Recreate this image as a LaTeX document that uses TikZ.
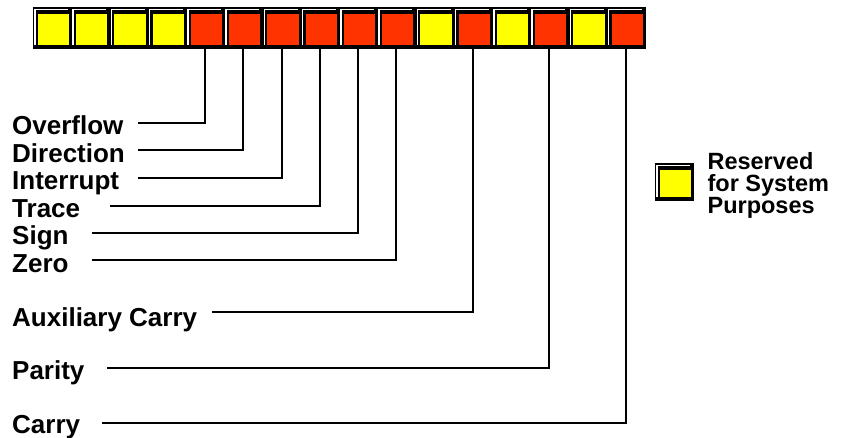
\documentclass[tikz,border=0pt]{standalone}
\usepackage{fontspec}
\setmainfont{Liberation Sans}
\usetikzlibrary{positioning}
\definecolor{flagred}{HTML}{FF3300}
\definecolor{flagyellow}{HTML}{FFFF00}

\tikzset{
  flagcell/.style={rectangle, inner sep=0pt, minimum width=38.25pt, minimum height=41pt,
    fill=black, draw=black, line width=0.5pt,
    path picture={
      \fill[#1] ([xshift=5pt,yshift=3pt]path picture bounding box.south west)
        rectangle ([xshift=-2pt,yshift=-7pt]path picture bounding box.north east);
      \draw[white, line width=1.5pt] ([xshift=2pt,yshift=3pt]path picture bounding box.south west)
        |- ([xshift=-3pt,yshift=-2.5pt]path picture bounding box.north east);
      \draw[gray, line width=1.2pt] ([yshift=-0.6pt]path picture bounding box.north west)
        -- ([yshift=-0.6pt]path picture bounding box.north east);
    }},
  flaglabel/.style={anchor=base west, inner sep=0pt, font=\bfseries\fontsize{26}{28}\selectfont},
  keytext/.style={inner sep=0pt, align=left, font=\bfseries\fontsize{23.5}{22}\selectfont},
  flagline/.style={line width=2pt},
}

\begin{document}
\begin{tikzpicture}[x=1pt, y=-1pt]
    \useasboundingbox (0,0) rectangle (841,438);
    % register cells, left to right
    \foreach \col [count=\k from 0] in {flagyellow,flagyellow,flagyellow,flagyellow,
        flagred,flagred,flagred,flagred,flagred,flagred,flagyellow,flagred,
        flagyellow,flagred,flagyellow,flagred}
        \node[flagcell=\col] (c\k) at ({52.1+38.25*\k},27.5) {};

    % flag names
    \node[flaglabel] (ovf) at (12,135) {Overflow};
    \node[flaglabel] (dir) at (12,163) {Direction};
    \node[flaglabel] (int) at (12,190) {Interrupt};
    \node[flaglabel] (trc) at (12,218) {Trace};
    \node[flaglabel] (sgn) at (12,245) {Sign};
    \node[flaglabel] (zro) at (12,273) {Zero};
    \node[flaglabel] (aux) at (12,327) {Auxiliary Carry};
    \node[flaglabel] (par) at (12,380) {Parity};
    \node[flaglabel] (cry) at (12,433) {Carry};

    % line starts
    \coordinate (ovfS) at (138,123);
    \coordinate (dirS) at (138,150);
    \coordinate (intS) at (138,178);
    \coordinate (trcS) at (110,206);
    \coordinate (sgnS) at (92,233);
    \coordinate (zroS) at (92,260);
    \coordinate (auxS) at (212,312);
    \coordinate (parS) at (107,368);
    \coordinate (cryS) at (102,423);

    \draw[flagline] (ovfS) -| (c4.south);  % OF
    \draw[flagline] (dirS) -| (c5.south);  % DF
    \draw[flagline] (intS) -| (c6.south);  % IF
    \draw[flagline] (trcS) -| (c7.south);  % TF
    \draw[flagline] (sgnS) -| (c8.south);  % SF
    \draw[flagline] (zroS) -| (c9.south);  % ZF
    \draw[flagline] (auxS) -| (c11.south); % AF
    \draw[flagline] (parS) -| (c13.south); % PF
    \draw[flagline] (cryS) -| (c15.south); % CF

    % legend
    \node[flagcell=flagyellow, minimum height=37pt] (key) at (674,181.5) {};
    \node[keytext, right=14pt of key, yshift=-4pt] (keyT) {Reserved\\for System\\Purposes};
\end{tikzpicture}
\end{document}
